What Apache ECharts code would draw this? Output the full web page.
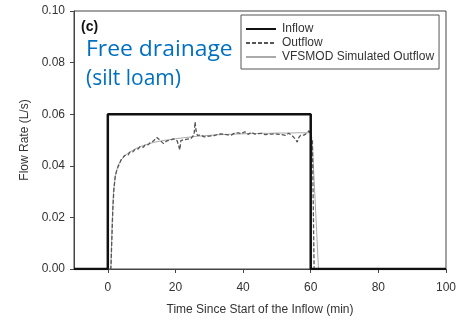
<!DOCTYPE html>
<html>
<head>
<meta charset="utf-8">
<script src="https://cdn.jsdelivr.net/npm/echarts@6/dist/echarts.min.js"></script>
<style>html,body{margin:0;padding:0;background:#fff;}#c{width:459px;height:321px;}</style>
</head>
<body>
<div id="c"></div>
<script>
var xTicks = [0, 20, 40, 60, 80, 100];
var inflowTime  = [-10, 0, 0, 60, 60, 100];
var inflowValue = [0, 0, 0.06, 0.06, 0, 0];
var outflowTime = [-10, 0.9, 1.2, 1.5, 1.8, 2.2, 2.6, 3, 3.5, 4, 4.5, 5, 5.5, 6, 6.5, 7, 7.5, 8, 8.5, 9, 9.5, 10, 10.5, 11, 11.5, 12, 12.5, 13, 13.5, 14, 14.5, 15, 15.5, 16, 16.5, 17, 17.5, 18, 18.5, 19, 19.5, 20, 20.5, 21, 21.3, 21.6, 22, 22.5, 23, 23.5, 24, 24.5, 25, 25.5, 25.8, 26.1, 26.5, 27, 27.5, 28, 28.5, 29, 29.5, 30, 30.5, 31, 31.5, 32, 32.5, 33, 33.5, 34, 34.5, 35, 35.5, 36, 36.5, 37, 37.5, 38, 38.5, 39, 39.5, 40, 40.5, 41, 41.5, 42, 42.5, 43, 43.5, 44, 44.5, 45, 45.5, 46, 46.5, 47, 47.5, 48, 48.5, 49, 49.5, 50, 50.5, 51, 51.5, 52, 52.5, 53, 53.5, 54, 54.5, 55, 55.5, 56, 56.5, 57, 57.5, 58, 58.5, 59, 59.5, 60, 60.5, 60.8, 61, 100];
var outflowValue = [0, 0, 0.012, 0.024, 0.031, 0.036, 0.038, 0.0395, 0.041, 0.0425, 0.0432, 0.0440, 0.0446, 0.0442, 0.0452, 0.0458, 0.0455, 0.0463, 0.0470, 0.0466, 0.0474, 0.0478, 0.0472, 0.0480, 0.0486, 0.0482, 0.0490, 0.0488, 0.0496, 0.0502, 0.0510, 0.0505, 0.0498, 0.0492, 0.0486, 0.0490, 0.0497, 0.0494, 0.0500, 0.0498, 0.0504, 0.0500, 0.0497, 0.0499, 0.0462, 0.0498, 0.0503, 0.0501, 0.0506, 0.0503, 0.0508, 0.0505, 0.0510, 0.0520, 0.0570, 0.0535, 0.0518, 0.0514, 0.0519, 0.0515, 0.0512, 0.0518, 0.0514, 0.0520, 0.0516, 0.0521, 0.0517, 0.0515, 0.0522, 0.0519, 0.0524, 0.0518, 0.0522, 0.0526, 0.0520, 0.0524, 0.0519, 0.0523, 0.0527, 0.0522, 0.0528, 0.0531, 0.0525, 0.0528, 0.0532, 0.0526, 0.0522, 0.0527, 0.0530, 0.0526, 0.0523, 0.0528, 0.0525, 0.0522, 0.0526, 0.0524, 0.0521, 0.0525, 0.0522, 0.0526, 0.0523, 0.0520, 0.0524, 0.0527, 0.0522, 0.0525, 0.0521, 0.0524, 0.0518, 0.0522, 0.0526, 0.0520, 0.0517, 0.0512, 0.0503, 0.0492, 0.0510, 0.0518, 0.0522, 0.0519, 0.0525, 0.0528, 0.0536, 0.0530, 0.0500, 0.0200, 0, 0];
var simTime  = [-10, 0.9, 1.3, 1.7, 2.2, 3, 4, 5, 6, 8, 10, 12, 14, 16, 18, 20, 22, 24, 26, 28, 30, 32, 34, 36, 38, 40, 42, 44, 46, 48, 50, 52, 54, 56, 58, 60, 60.5, 62.3, 100];
var simValue = [0, 0, 0.018, 0.030, 0.036, 0.040, 0.0423, 0.0438, 0.0450, 0.0465, 0.0476, 0.0485, 0.0492, 0.0497, 0.0501, 0.0505, 0.0508, 0.0511, 0.0514, 0.0516, 0.0518, 0.0520, 0.0521, 0.0522, 0.0523, 0.0524, 0.0525, 0.0525, 0.0526, 0.0526, 0.0527, 0.0527, 0.0527, 0.0528, 0.0528, 0.0528, 0.048, 0, 0];

function pairs(t, v) { return t.map(function (x, i) { return [x, v[i]]; }); }

var FONT = '"Liberation Sans", Arial, sans-serif';
var chart = echarts.init(document.getElementById('c'), null, {renderer: 'canvas'});
chart.setOption({
  animation: false,
  backgroundColor: '#fff',
  grid: {left: 74, right: 10, top: 11, bottom: 49, show: true, borderColor: '#444', borderWidth: 1, backgroundColor: 'transparent'},
  legend: {
    left: 241, top: 15, orient: 'vertical',
    padding: [8, 5, 6, 4], itemGap: 2, itemWidth: 30, itemHeight: 10,
    borderColor: '#555', borderWidth: 1, backgroundColor: '#fff',
    itemStyle: {color: 'rgba(0,0,0,0)', borderWidth: 0, borderColor: 'rgba(0,0,0,0)'},
    textStyle: {fontFamily: FONT, fontSize: 12, color: '#333', padding: [0, 0, 0, 1]},
    data: [{name: 'Inflow'}, {name: 'Outflow'}, {name: 'VFSMOD Simulated Outflow'}]
  },
  xAxis: {
    type: 'value', min: -10, max: 100,
    name: 'Time Since Start of the Inflow (min)', nameLocation: 'middle', nameGap: 35,
    nameTextStyle: {fontFamily: FONT, fontSize: 12, color: '#333'},
    axisLine: {show: true, onZero: false, lineStyle: {color: '#444', width: 1}},
    axisTick: {show: true, length: 4, customValues: xTicks, lineStyle: {color: '#444'}},
    axisLabel: {customValues: xTicks, margin: 13, fontFamily: FONT, fontSize: 12, color: '#333'},
    splitLine: {show: false}
  },
  yAxis: {
    type: 'value', min: 0, max: 0.1, interval: 0.02,
    name: 'Flow Rate (L/s)', nameLocation: 'middle', nameGap: 38,
    nameTextStyle: {fontFamily: FONT, fontSize: 12, color: '#333'},
    axisLine: {show: true, onZero: false, lineStyle: {color: '#444', width: 1}},
    axisTick: {show: true, length: 4, lineStyle: {color: '#444'}},
    axisLabel: {margin: 9, fontFamily: FONT, fontSize: 12, color: '#333', formatter: function (v) { return v.toFixed(2); }},
    splitLine: {show: false}
  },
  graphic: [
    {type: 'text', left: 81, top: 20, style: {text: '(c)', font: 'bold 14px ' + FONT, fill: '#111'}},
    {type: 'text', left: 86, top: 40, scaleX: 1.09, style: {text: 'Free drainage', font: '21px "Open Sans", "Noto Sans", sans-serif', fill: '#0070C0'}},
    {type: 'text', left: 86, top: 69, style: {text: '(silt loam)', font: '21px "Open Sans", "Noto Sans", sans-serif', fill: '#0070C0'}}
  ],
  series: [
    {name: 'VFSMOD Simulated Outflow', type: 'line', data: pairs(simTime, simValue), symbol: 'none', z: 2,
     lineStyle: {color: '#aaaaaa', width: 1}, itemStyle: {color: '#aaaaaa'}},
    {name: 'Outflow', type: 'line', data: pairs(outflowTime, outflowValue), symbol: 'none', z: 3,
     lineStyle: {color: '#555555', width: 1.3, type: [4, 2]}, itemStyle: {color: '#555555'}},
    {name: 'Inflow', type: 'line', data: pairs(inflowTime, inflowValue), symbol: 'none', z: 4,
     lineStyle: {color: '#111111', width: 2.5}, itemStyle: {color: '#111111'}}
  ]
});
</script>
</body>
</html>
